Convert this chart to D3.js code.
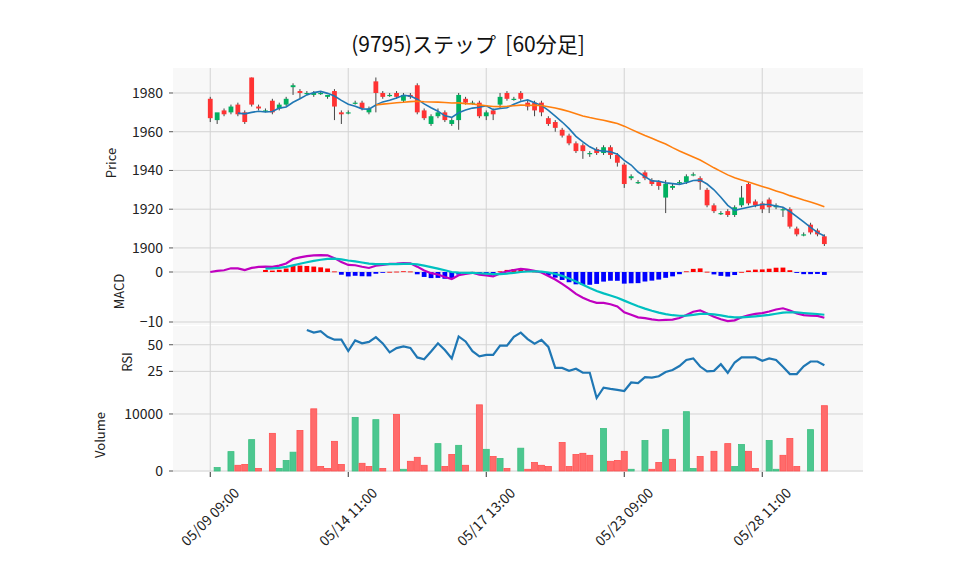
<!DOCTYPE html>
<html><head><meta charset="utf-8">
<script src="https://cdn.jsdelivr.net/npm/d3@7"></script>
<style>body{margin:0;background:#fff;font-family:"Noto Sans CJK JP","DejaVu Sans",sans-serif}</style>
</head><body><svg id="c" width="958" height="575"></svg>
<script>
const opens  = [1977,1966,1971,1970,1974,1970,1988,1973,1971,1976,1972,1974,1983,1981,1980,1979,1980,1978,1981,1970,1970,1975,1975,1970,1986,1980,1979,1980,1976,1979,
                1984,1971,1964,1968,1970,1964,1966,1977,1975,1975,1968,1971,1974,1980,1977,1980,1975,1975,1975,1967,1965,1961,1958,1954,1953,1949,1951,1949,1952,1948,
                1943,1936,1934,1939,1935,1934,1926,1931,1934,1934,1938,1936,1930,1922,1918,1919,1917,1922,1933,1924,1923,1925,1921,1920,1920,1910,1907,1912,1909,1906];
const closes = [1967,1970,1969,1973,1969,1965,1974,1972,1971,1970,1974,1977,1984,1980,1980,1980,1980,1979,1973,1969,1970,1975,1972,1972,1980,1978,1979,1978,1979,1978,
                1970,1967,1968,1970,1966,1966,1979,1975,1975,1968,1970,1969,1978,1977,1977,1977,1973,1971,1970,1964,1962,1958,1954,1950,1950,1949,1949,1952,1948,1944,
                1933,1937,1934,1936,1933,1932,1933,1932,1934,1937,1938,1934,1922,1919,1918,1917,1921,1926,1923,1922,1920,1921,1922,1920,1911,1907,1907,1908,1907,1902];
const highs  = [1978,1967,1972,1974,1975,1971,1988,1974,1972,1977,1975,1978,1985,1982,1981,1981,1981,1979,1982,1971,1971,1976,1976,1973,1988,1981,1980,1981,1980,1980,
                1985,1972,1969,1972,1971,1967,1980,1978,1976,1976,1971,1972,1980,1981,1978,1981,1976,1976,1976,1968,1966,1962,1959,1955,1954,1950,1952,1953,1953,1949,
                1944,1938,1935,1940,1936,1935,1935,1933,1935,1938,1939,1937,1931,1923,1919,1920,1922,1932,1934,1925,1924,1926,1923,1921,1921,1911,1908,1913,1910,1907];
const lows   = [1965,1964,1968,1969,1968,1964,1973,1971,1970,1969,1971,1973,1979,1977,1979,1978,1979,1977,1966,1964,1969,1974,1971,1969,1970,1977,1978,1977,1975,1977,
                1969,1966,1963,1967,1965,1963,1961,1974,1974,1967,1966,1966,1972,1976,1976,1976,1971,1968,1968,1963,1960,1957,1953,1949,1946,1947,1948,1948,1946,1942,
                1931,1935,1933,1935,1932,1930,1918,1930,1933,1933,1937,1930,1921,1918,1917,1916,1916,1921,1922,1921,1918,1918,1920,1916,1910,1906,1906,1907,1906,1901];
const volumes= [0,600,0,3400,1000,1150,5500,450,0,6600,450,1850,3300,7100,0,10900,800,450,5200,1150,0,9400,1350,800,9000,450,0,9900,300,1700,
                2400,1000,0,4800,800,2900,4500,1000,0,11600,3800,2550,2200,450,0,4000,300,1500,1000,800,0,5000,800,2900,3100,2750,0,7450,1700,1850,
                3450,300,0,5350,300,1500,7250,2050,0,10400,450,2550,0,3450,0,4800,800,4650,3450,450,0,5350,300,2750,5700,800,0,7250,0,11450];
const volUp  = [1,1,1,1,0,0,1,0,0,0,1,1,1,0,0,0,0,0,0,0,0,1,0,0,1,0,0,0,1,0,
                0,0,0,1,0,0,1,0,0,0,1,0,1,0,0,1,0,0,0,0,0,0,0,0,0,0,0,1,0,0,
                0,1,0,1,0,0,1,0,0,1,1,0,0,0,0,0,1,1,0,0,0,1,1,0,0,0,0,1,0,0];
const tickIdx = [0,20,40,60,80];
const tickLabels = ["05/09 09:00","05/14 11:00","05/17 13:00","05/23 09:00","05/28 11:00"];
const title = "(9795)ステップ  [60分足]";

const N = closes.length;
function sma(a,p){return a.map((_,i)=>i<p-1?null:d3.mean(a.slice(i-p+1,i+1)));}
function ema(a,p){const k=2/(p+1);let r=[],e=null;a.forEach((v,i)=>{e=e===null?v:v*k+e*(1-k);r.push(e);});return r;}
const ma5=sma(closes,5), ma25=sma(closes,25);
const e12=ema(closes,12), e26=ema(closes,26);
const macd=e12.map((v,i)=>v-e26[i]);
const sigRaw=ema(macd,9);
const signal=sigRaw.map((v,i)=>i<8?null:v);
const hist=macd.map((v,i)=>i<8?null:v-sigRaw[i]);
const rsi=closes.map((c,i)=>{if(i<14)return null;let g=0,l=0;for(let j=i-13;j<=i;j++){const d=closes[j]-closes[j-1];if(d>0)g+=d;else l-=d;}return l===0?100:100-100/(1+g/l);});

const svg=d3.select("#c");
const L=173,R=863;
const x=d3.scaleLinear().domain([-5.4,N-1+5.6]).range([L,R]);
const bw=4.8;
const panels={
 price:{y0:68,y1:258,dom:[1894.8,1992.9],ticks:[1900,1920,1940,1960,1980],label:"Price",lx:116},
 macd:{y0:258,y1:325,dom:[-10.6,2.8],ticks:[-10,0],label:"MACD",lx:124},
 rsi:{y0:326,y1:398,dom:[0,67.6],ticks:[25,50],label:"RSI",lx:132},
 vol:{y0:398,y1:472,dom:[-175,12800],ticks:[0,10000],label:"Volume",lx:105}
};
const fmt=v=>v<0?"\u2212"+Math.abs(v):String(v);
for(const k in panels){const p=panels[k];
 p.y=d3.scaleLinear().domain(p.dom).range([p.y1,p.y0]);
 svg.append("rect").attr("x",L).attr("y",p.y0).attr("width",R-L).attr("height",p.y1-p.y0).attr("fill","#f8f8f8");
 const g=svg.append("g");
 p.ticks.forEach(t=>{g.append("line").attr("x1",L).attr("x2",R).attr("y1",p.y(t)).attr("y2",p.y(t)).attr("stroke","#d3d3d3").attr("stroke-width",1);
  g.append("line").attr("x1",L-4).attr("x2",L).attr("y1",p.y(t)).attr("y2",p.y(t)).attr("stroke","#555");
  g.append("text").attr("x",L-10).attr("y",p.y(t)).attr("dy","0.35em").attr("text-anchor","end").attr("font-size",14).attr("fill","#222").text(fmt(t));});
 svg.append("text").attr("transform",`translate(${p.lx},${(p.y0+p.y1)/2}) rotate(-90)`).attr("text-anchor","middle").attr("font-size",13).attr("fill","#222").text(p.label);
}
tickIdx.forEach((t,i)=>{const xx=x(t);
 svg.append("line").attr("x1",xx).attr("x2",xx).attr("y1",68).attr("y2",472).attr("stroke","#d3d3d3");
 svg.append("line").attr("x1",xx).attr("x2",xx).attr("y1",472).attr("y2",477).attr("stroke","#333");
 svg.append("text").attr("transform",`translate(${xx},${517}) rotate(-45)`).attr("text-anchor","middle").attr("dy","0.35em").attr("font-size",14).attr("fill","#222").text(tickLabels[i]);});

const P=panels.price;
const up="#00b060", dn="#ff3333";
const cg=svg.append("g");
closes.forEach((c,i)=>{const o=opens[i],col=c>=o?up:dn;
 cg.append("line").attr("x1",x(i)).attr("x2",x(i)).attr("y1",P.y(highs[i])).attr("y2",P.y(lows[i])).attr("stroke","#444").attr("stroke-width",1);
 const t=P.y(Math.max(o,c)),b=P.y(Math.min(o,c));
 cg.append("rect").attr("x",x(i)-bw/2).attr("y",t).attr("width",bw).attr("height",Math.max(b-t,1.2)).attr("fill",col);});
function drawLine(arr,sc,col,w){svg.append("path").datum(arr).attr("fill","none").attr("stroke",col).attr("stroke-width",w)
 .attr("d",d3.line().defined(d=>d!==null).x((d,i)=>x(i)).y(d=>sc(d)));}
drawLine(ma5,P.y,"#1f77b4",1.6);
drawLine(ma25,P.y,"#ff7f0e",1.6);
const M=panels.macd;
hist.forEach((h,i)=>{if(h===null)return;const y0=M.y(0),y1=M.y(h);
 svg.append("rect").attr("x",x(i)-bw/2).attr("y",Math.min(y0,y1)).attr("width",bw).attr("height",Math.max(Math.abs(y1-y0),0.8)).attr("fill",h>=0?"#ff0000":"#0000ff");});
drawLine(macd,M.y,"#c000c0",2.2);
drawLine(signal,M.y,"#00c0c0",2.2);
drawLine(rsi,panels.rsi.y,"#1f77b4",2.2);
const V=panels.vol;
volumes.forEach((v,i)=>{if(!v)return;
 svg.append("rect").attr("x",x(i)-3).attr("y",V.y(v)).attr("width",6).attr("height",V.y(0)-V.y(v))
 .attr("fill",volUp[i]?"#4cc790":"#ff6b6b").attr("stroke",volUp[i]?"#3cbf80":"#ff5050").attr("stroke-width",0.8);});
svg.append("text").attr("x",468).attr("y",52).attr("text-anchor","middle").attr("font-size",21).attr("fill","#111").style("white-space","pre").text(title);
</script></body></html>
